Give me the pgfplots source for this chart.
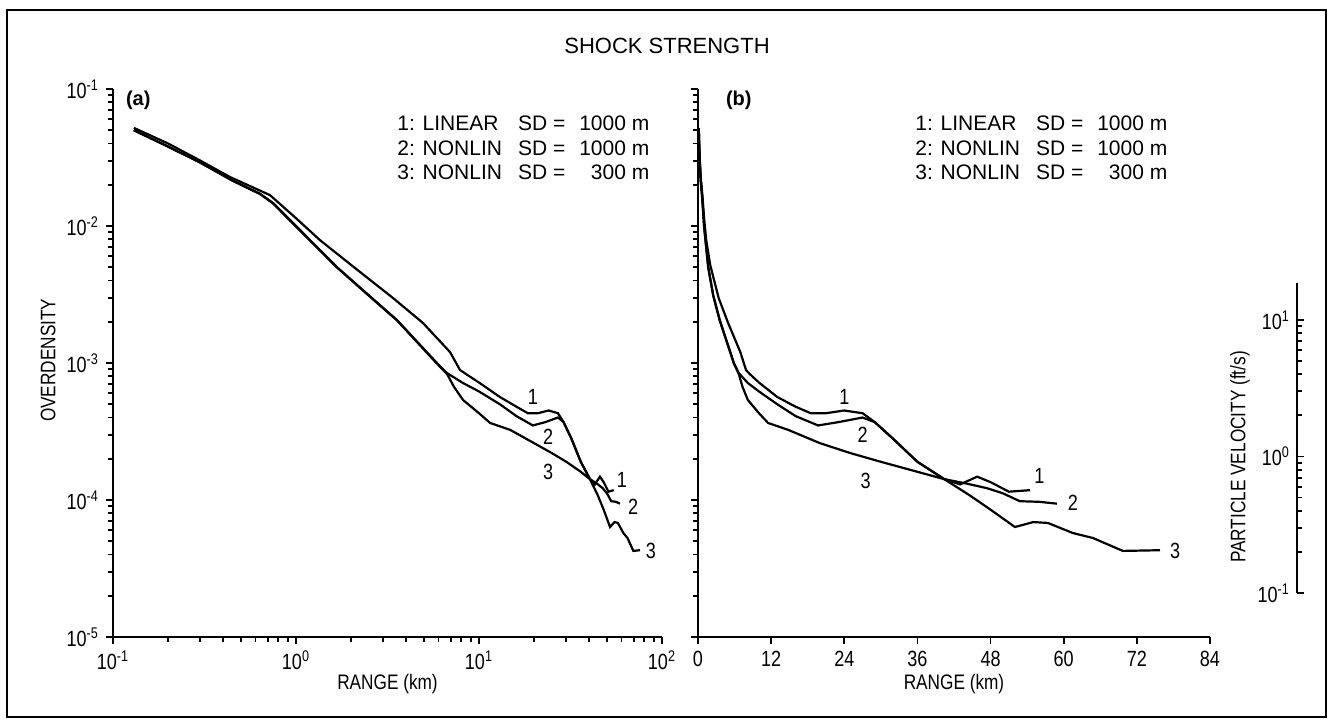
\documentclass[border=0pt]{standalone}
\usepackage{fontspec}
\setmainfont{Liberation Sans}
\newfontfamily\tickfont[FakeStretch=0.82]{Liberation Sans}
\usepackage{pgfplots}
\usepackage{pgfplotstable}
\pgfplotsset{compat=1.18}

\pgfplotstableread{
x y
0.13 0.052
0.2 0.040
0.3 0.030
0.435 0.0228
0.721 0.0168
1 0.0114
1.35 0.0079
2 0.0052
3.39 0.00298
4.94 0.00196
6.95 0.0012
7.87 0.00089
8.5 0.00083
10 0.00072
13 0.000565
16 0.00048
18.5 0.00043
21 0.00043
24 0.00045
27 0.00043
29 0.00037
32 0.00028
36 0.00019
40.4 0.000142
43 0.00013
45.8 0.000148
48 0.000135
51 0.000115
54.5 0.000118
}\curveone

\pgfplotstableread{
x y
0.13 0.050
0.2 0.038
0.3 0.029
0.45 0.0215
0.636 0.0172
0.75 0.0147
1 0.0100
1.67 0.00502
2.5 0.00312
3.56 0.00206
5.89 0.0010
6.68 0.000845
8.18 0.000714
10 0.00062
13 0.00050
16 0.00041
19.7 0.00035
23 0.00037
27 0.00040
29 0.00037
32 0.00028
36 0.00019
40.4 0.000142
44 0.000132
47.4 0.000122
50 0.000112
52.8 0.000098
56 0.000097
58.9 0.000094
}\curvetwo

\pgfplotstableread{
x y
0.13 0.050
0.2 0.038
0.3 0.029
0.45 0.0214
0.636 0.0171
0.75 0.0146
1 0.0099
1.67 0.00500
2.5 0.00310
3.56 0.00205
5.89 0.00099
6.68 0.000835
7.3 0.00067
8.18 0.000537
10 0.00043
11.5 0.000365
14.8 0.000325
20 0.00026
25 0.00022
30 0.00019
35.7 0.000162
40.4 0.000142
44.6 0.000108
48 0.000085
52 0.0000635
55 0.000069
57.4 0.000068
61.5 0.0000574
64.8 0.0000528
69.7 0.0000425
75.8 0.000043
}\curvethree

\begin{document}
\begin{tikzpicture}[x=1pt,y=1pt]
\path[use as bounding box] (0,0) rectangle (664.5,360.5);
\draw[line width=1.4pt] (3.5,2) rectangle (663,355.5);
\node[font=\fontsize{11}{13}\selectfont] at (333.5,337.5) {SHOCK STRENGTH};

% ---------- panel (a)
\begin{axis}[
  scale only axis, at={(56.5pt,42pt)}, anchor=south west,
  width=274.5pt, height=274pt,
  axis x line*=bottom, axis y line*=left,
  tick align=outside,
  axis line style={line width=1.2pt},
  major tick style={black, line width=0.9pt},
  minor tick style={black, line width=0.9pt},
  major tick length=3.5pt, minor tick length=2.5pt,
  xmode=log, ymode=log,
  xmin=0.1, xmax=100, ymin=1e-5, ymax=1e-1,
  xtick={0.1,1,10,100},
  xticklabels={10\textsuperscript{-1},10\textsuperscript{0},10\textsuperscript{1},10\textsuperscript{2}},
  minor xtick={0.2,0.3,0.4,0.5,0.6,0.7,0.8,0.9,2,3,4,5,6,7,8,9,20,30,40,50,60,70,80,90},
  ytick={1e-5,1e-4,1e-3,1e-2,1e-1},
  minor ytick={2e-5,3e-5,4e-5,5e-5,6e-5,7e-5,8e-5,9e-5,
               2e-4,3e-4,4e-4,5e-4,6e-4,7e-4,8e-4,9e-4,
               2e-3,3e-3,4e-3,5e-3,6e-3,7e-3,8e-3,9e-3,
               2e-2,3e-2,4e-2,5e-2,6e-2,7e-2,8e-2,9e-2},
  yticklabels={10\textsuperscript{-5},10\textsuperscript{-4},10\textsuperscript{-3},10\textsuperscript{-2},10\textsuperscript{-1}},
  tick label style={font=\tickfont\fontsize{11}{13}\selectfont},
  xlabel={RANGE (km)}, ylabel={OVERDENSITY},
  xlabel style={font=\tickfont\fontsize{10.5}{12}\selectfont, at={(axis description cs:0.5,-0.085)}, anchor=center},
  ylabel style={font=\tickfont\fontsize{10.5}{12}\selectfont, at={(axis description cs:-0.118,0.505)}, anchor=center},
  clip=false,
]
\addplot[black, line width=1.1pt, no marks] table {\curveone};
\addplot[black, line width=1.1pt, no marks] table {\curvetwo};
\addplot[black, line width=1.1pt, no marks] table {\curvethree};
\node[font=\tickfont\fontsize{11}{13}\selectfont] at (axis cs:19.7,5.65e-4) {1};
\node[font=\tickfont\fontsize{11}{13}\selectfont] at (axis cs:23.9,2.88e-4) {2};
\node[font=\tickfont\fontsize{11}{13}\selectfont] at (axis cs:23.9,1.6e-4) {3};
\node[font=\tickfont\fontsize{11}{13}\selectfont] at (axis cs:60.4,1.40e-4) {1};
\node[font=\tickfont\fontsize{11}{13}\selectfont] at (axis cs:69.5,8.9e-5) {2};
\node[font=\tickfont\fontsize{11}{13}\selectfont] at (axis cs:87,4.25e-5) {3};
\end{axis}

% ---------- panel (b)
\begin{axis}[
  scale only axis, at={(349pt,42pt)}, anchor=south west,
  width=256pt, height=274pt,
  axis x line*=bottom, axis y line*=left,
  tick align=outside,
  axis line style={line width=1.2pt},
  major tick style={black, line width=0.9pt},
  minor tick style={black, line width=0.9pt},
  major tick length=3.5pt, minor tick length=2.5pt,
  ymode=log,
  xmin=0, xmax=84, ymin=1e-5, ymax=1e-1,
  xtick={0,12,24,36,48,60,72,84},
  /pgf/number format/assume math mode=true,
  ytick={1e-5,1e-4,1e-3,1e-2,1e-1},
  minor ytick={2e-5,3e-5,4e-5,5e-5,6e-5,7e-5,8e-5,9e-5,
               2e-4,3e-4,4e-4,5e-4,6e-4,7e-4,8e-4,9e-4,
               2e-3,3e-3,4e-3,5e-3,6e-3,7e-3,8e-3,9e-3,
               2e-2,3e-2,4e-2,5e-2,6e-2,7e-2,8e-2,9e-2},
  yticklabels={},
  tick label style={font=\tickfont\fontsize{11}{13}\selectfont},
  xlabel={RANGE (km)},
  xlabel style={font=\tickfont\fontsize{10.5}{12}\selectfont, at={(axis description cs:0.5,-0.085)}, anchor=center},
  clip=false,
]
\addplot[black, line width=1.1pt, no marks] table {\curveone};
\addplot[black, line width=1.1pt, no marks] table {\curvetwo};
\addplot[black, line width=1.1pt, no marks] table {\curvethree};
\node[font=\tickfont\fontsize{11}{13}\selectfont] at (axis cs:24,5.7e-4) {1};
\node[font=\tickfont\fontsize{11}{13}\selectfont] at (axis cs:27,3.0e-4) {2};
\node[font=\tickfont\fontsize{11}{13}\selectfont] at (axis cs:27.5,1.38e-4) {3};
\node[font=\tickfont\fontsize{11}{13}\selectfont] at (axis cs:56,1.5e-4) {1};
\node[font=\tickfont\fontsize{11}{13}\selectfont] at (axis cs:61.5,9.5e-5) {2};
\node[font=\tickfont\fontsize{11}{13}\selectfont] at (axis cs:78.3,4.25e-5) {3};
\end{axis}

% ---------- particle velocity scale
\begin{axis}[
  scale only axis, at={(648.5pt,64pt)}, anchor=south west,
  width=10pt, height=155pt,
  axis y line*=left, hide x axis,
  axis line style={line width=1.2pt},
  major tick style={black, line width=0.9pt},
  minor tick style={black, line width=0.9pt},
  tick align=inside,
  major tick length=3.5pt, minor tick length=2.5pt,
  ymode=log, ymin=0.1, ymax=18.66, xmin=0, xmax=1,
  ytick={0.1,1,10},
  minor ytick={0.2,0.3,0.4,0.5,0.6,0.7,0.8,0.9,2,3,4,5,6,7,8,9},
  yticklabels={10\textsuperscript{-1},10\textsuperscript{0},10\textsuperscript{1}},
  tick label style={font=\tickfont\fontsize{11}{13}\selectfont},
]
\addplot[draw=none] coordinates {(0,1)};
\end{axis}
\node[rotate=90, font=\tickfont\fontsize{10.5}{12}\selectfont] at (620,132) {PARTICLE VELOCITY (ft/s)};

% ---------- panel labels and legends
\node[anchor=west, font=\bfseries\fontsize{10}{12}\selectfont] at (59.5,310.5) {(a)};
\node[anchor=west, font=\bfseries\fontsize{10}{12}\selectfont] at (359.5,310.5) {(b)};
\node[anchor=north west, inner sep=0pt] at (198.5,304) {\fontsize{10.5}{12.25}\selectfont
  \begin{tabular}{@{}l@{\hspace{8pt}}l@{\hspace{7pt}}r@{}}
  1: LINEAR & SD = & 1000 m\\
  2: NONLIN & SD = & 1000 m\\
  3: NONLIN & SD = & 300 m
  \end{tabular}};
\node[anchor=north west, inner sep=0pt] at (457.5,304) {\fontsize{10.5}{12.25}\selectfont
  \begin{tabular}{@{}l@{\hspace{8pt}}l@{\hspace{7pt}}r@{}}
  1: LINEAR & SD = & 1000 m\\
  2: NONLIN & SD = & 1000 m\\
  3: NONLIN & SD = & 300 m
  \end{tabular}};
\end{tikzpicture}
\end{document}
